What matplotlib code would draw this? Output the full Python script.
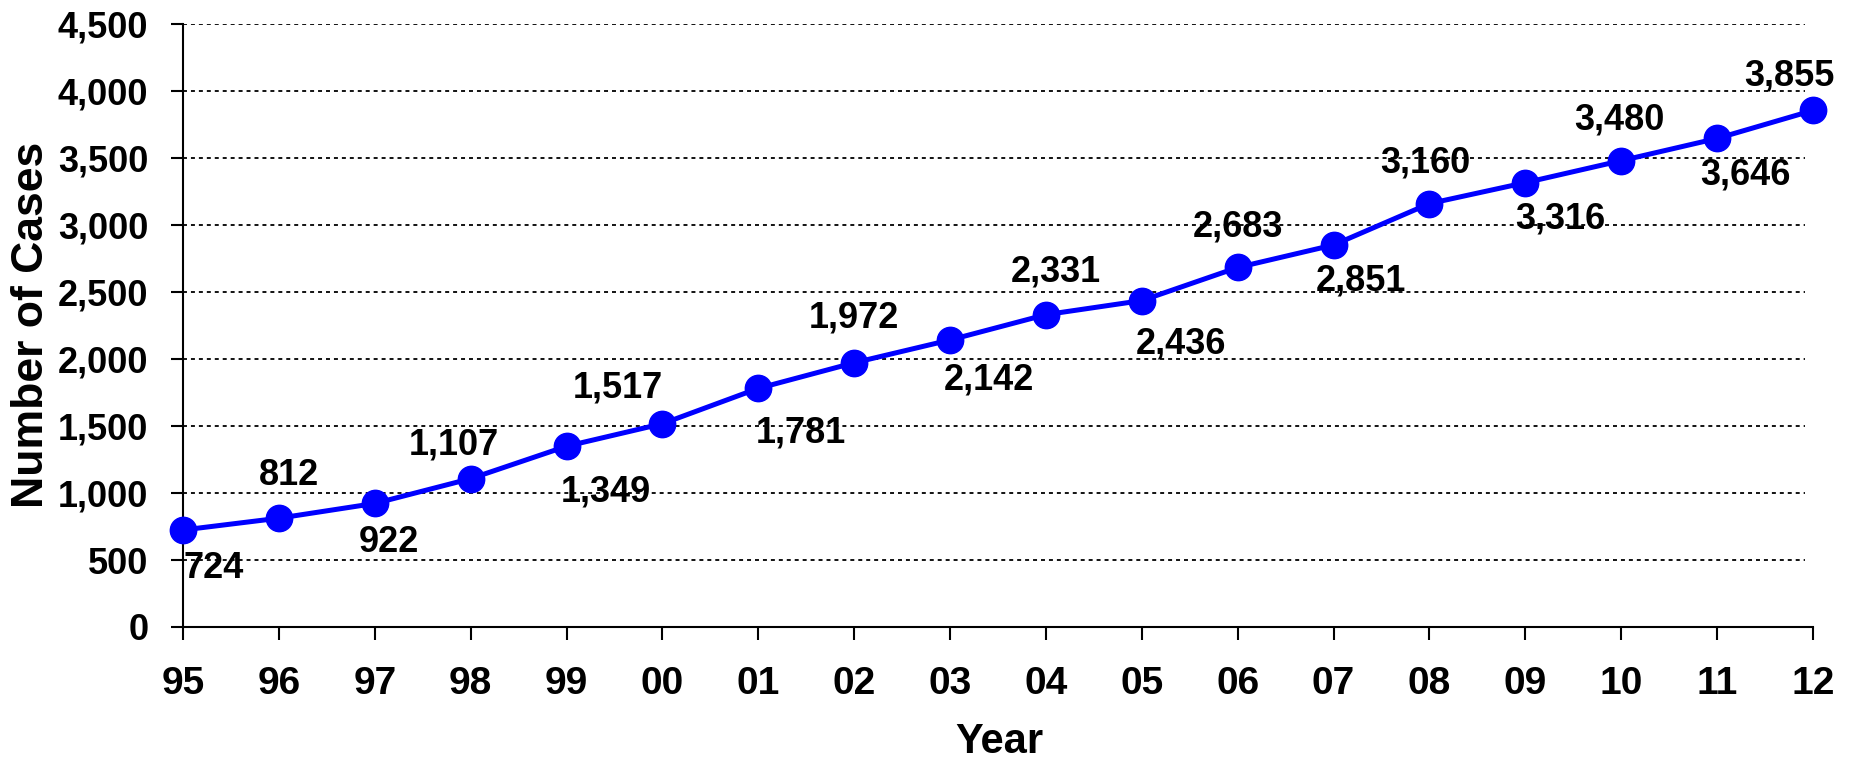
import matplotlib.pyplot as plt

plt.rcParams['font.family'] = ['Liberation Sans', 'DejaVu Sans']
plt.rcParams['font.weight'] = 'bold'

years = ["95", "96", "97", "98", "99", "00", "01", "02", "03",
         "04", "05", "06", "07", "08", "09", "10", "11", "12"]
cases = [724, 812, 922, 1107, 1349, 1517, 1781, 1972, 2142,
         2331, 2436, 2683, 2851, 3160, 3316, 3480, 3646, 3855]
# label offsets in points (dx, dy)
label_dx = [22, 7, 10, -12, 28, -32, 31, 0, 28, 7, 28, 0, 20, -3, 25, -1, 20, -17]
label_dy = [-28, 31, -28, 24, -33, 26, -32, 32, -29, 31, -31, 29, -26, 29, -26, 29, -26, 25]

fig = plt.figure(figsize=(18.54, 7.6), dpi=100)
ax = fig.add_axes([183 / 1854, 1 - 627 / 760, 1630 / 1854, 603 / 760])

x = list(range(len(years)))
ax.plot(x, cases, color='#0000FF', lw=3.6, marker='o', ms=19, clip_on=False, zorder=3)

for xi, v, dx, dy in zip(x, cases, label_dx, label_dy):
    ax.annotate(f"{v:,}", (xi, v), xytext=(dx, dy), textcoords='offset points',
                ha='center', va='center', fontsize=26, fontweight='bold', zorder=4)

ax.set_xlim(0, len(years) - 1)
ax.set_ylim(0, 4500)
ax.set_xticks(x)
ax.set_xticklabels(years)
ax.set_yticks(range(0, 4501, 500))
ax.set_yticklabels([f"{t:,}" for t in range(0, 4501, 500)])
ax.tick_params(axis='x', labelsize=28, length=9, width=1.5, pad=19, direction='out')
ax.tick_params(axis='y', labelsize=26, length=9, width=1.5, pad=16, direction='out')
for lab in ax.get_xticklabels() + ax.get_yticklabels():
    lab.set_fontweight('bold')

for t in range(500, 4501, 500):
    ax.axhline(t, xmin=0, xmax=0.995, linestyle=(0, (2.2, 2.2)), color='black', lw=1.3, zorder=1)
for s in ['top', 'right']:
    ax.spines[s].set_visible(False)
for s in ['left', 'bottom']:
    ax.spines[s].set_linewidth(1.5)

fig.text(32 / 1854, 1 - 325 / 760, "Number of Cases", rotation=90, ha='center', va='center',
         fontsize=32, fontweight='bold')
fig.text(999 / 1854, 1 - 742 / 760, "Year", ha='center', va='center',
         fontsize=30, fontweight='bold')

fig.savefig("out.png", dpi=100)
